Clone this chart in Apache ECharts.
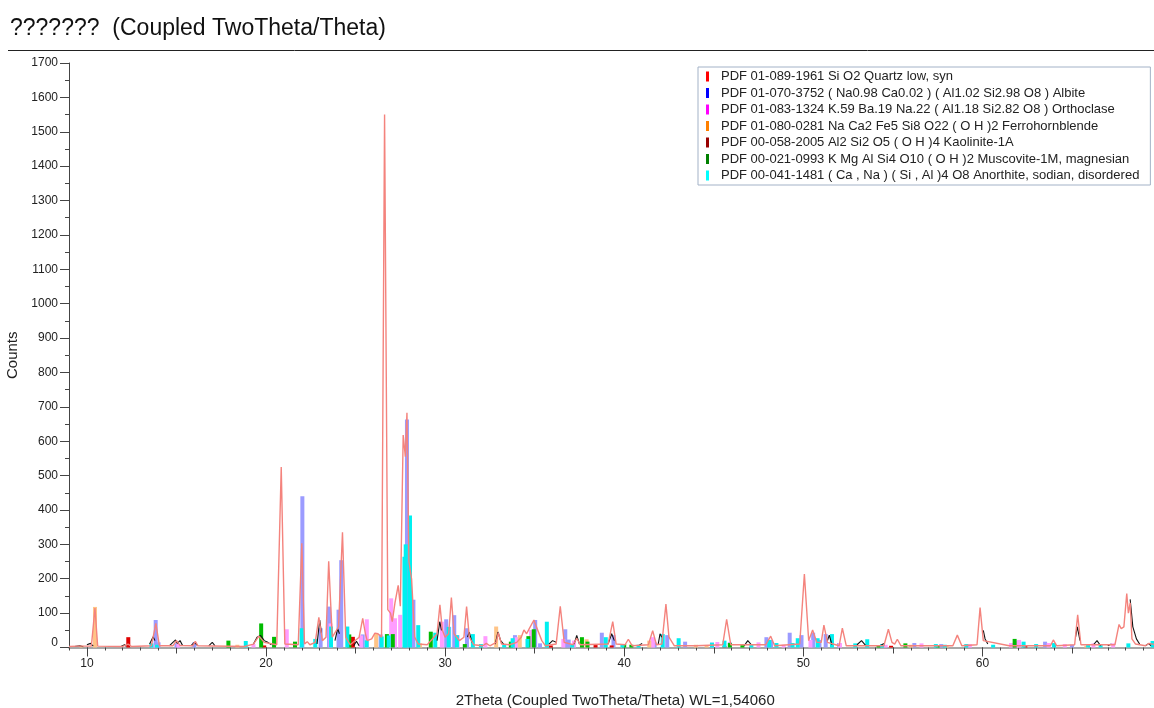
<!DOCTYPE html>
<html>
<head>
<meta charset="utf-8">
<script src="https://cdn.jsdelivr.net/npm/echarts@6/dist/echarts.min.js"></script>
<style>
html,body{margin:0;padding:0;background:#fff;}
#chart{width:1154px;height:708px;}
</style>
</head>
<body>
<div id="chart"></div>
<script>
// ---------- data ----------
const phaseNames = [
  "PDF 01-089-1961 Si O2 Quartz low, syn",
  "PDF 01-070-3752 ( Na0.98 Ca0.02 ) ( Al1.02 Si2.98 O8 ) Albite",
  "PDF 01-083-1324 K.59 Ba.19 Na.22 ( Al1.18 Si2.82 O8 ) Orthoclase",
  "PDF 01-080-0281 Na Ca2 Fe5 Si8 O22 ( O H )2 Ferrohornblende",
  "PDF 00-058-2005 Al2 Si2 O5 ( O H )4 Kaolinite-1A",
  "PDF 00-021-0993 K Mg Al Si4 O10 ( O H )2 Muscovite-1M, magnesian",
  "PDF 00-041-1481 ( Ca , Na ) ( Si , Al )4 O8 Anorthite, sodian, disordered"
];
const legendColors = ["#ff0000","#0000ff","#ff00ff","#ff8000","#990000","#008000","#00ffff"];
const stickColors  = ["#f4837d","#9b9bff","#ff9cff","#ffc487","#e00000","#00bb00","#00f0f0"];

// measured profile (salmon)
const quartzScan = [
  [9.0,3],[9.5,4],[10.25,4],[10.45,115],[10.6,4],
  [12.0,3],[12.3,10],[12.5,3],
  [13.6,5],[13.85,70],[14.05,5],
  [14.8,5],[15.0,20],[15.2,6],
  [15.9,5],[16.05,18],[16.2,5],
  [18.8,3],[19.3,10],[19.6,33],[19.9,15],
  [20.6,8],[20.85,525],[21.05,10],
  [21.8,8],[22.0,303],[22.15,10],[22.3,17],[22.45,8],
  [22.75,15],[22.95,88],[23.15,20],
  [23.35,30],[23.5,251],[23.7,30],
  [24.05,60],[24.27,335],[24.45,30],
  [24.7,8],[25.2,30],[25.4,85],[25.55,40],[25.65,20],
  [25.9,25],[26.08,42],[26.25,40],[26.45,30],
  [26.62,1550],[26.8,110],[26.95,100],[27.05,75],[27.2,130],[27.38,181],[27.5,120],
  [27.66,618],[27.78,555],[27.87,683],[27.98,250],[28.13,199],[28.3,30],[28.5,10],
  [29.0,8],[29.55,40],[29.71,124],[29.85,50],[30.0,30],[30.2,40],[30.35,145],[30.5,40],
  [30.8,20],[31.05,30],[31.2,119],[31.35,30],[31.6,8],
  [32.1,5],[32.3,12],[32.5,5],[32.85,15],[32.97,43],[33.15,10],
  [33.6,8],[34.0,15],[34.25,30],[34.4,51],[34.55,40],[34.7,55],[34.96,80],[35.1,60],[35.2,65],[35.4,20],[35.6,5],
  [36.2,10],[36.43,120],[36.65,15],
  [37.15,8],[37.35,27],[37.55,8],
  [39.1,10],[39.36,75],[39.55,10],
  [40.05,8],[40.23,24],[40.45,5],
  [41.35,8],[41.59,49],[41.8,8],
  [42.1,10],[42.33,126],[42.5,30],[42.6,30],[42.8,5],
  [44.0,5],[45.5,8],[45.72,82],[45.95,8],
  [47.9,8],[48.18,33],[48.4,5],
  [49.8,10],[50.06,214],[50.3,20],[50.52,51],[50.75,15],[51.0,15],[51.15,65],[51.35,15],
  [52.0,5],[52.18,56],[52.4,5],
  [54.5,5],[54.75,53],[54.95,15],[55.1,10],[55.25,24],[55.45,5],
  [58.35,5],[58.6,36],[58.85,5],
  [59.7,8],[59.87,116],[60.05,20],
  [61.5,5],[63.8,5],[63.96,22],[64.15,5],
  [65.15,8],[65.32,95],[65.5,8],
  [67.4,8],[67.63,67],[67.75,55],[67.9,60],[68.06,157],[68.15,100],[68.25,130],[68.35,25],[68.55,10],
  [69.1,5],[69.3,12],[70.0,5]
];

// black scan fragments ('-' breaks the line)
const blackScan = [
  [9.3,3],[9.6,5],[9.8,2],[9.85,'-'],
  [10.0,8],[10.2,12],[10.35,4],[10.4,'-'],
  [11.9,3],[12.1,8],[12.2,3],[12.25,'-'],
  [13.5,10],[13.7,31],[13.8,20],[13.85,'-'],
  [14.6,5],[14.8,15],[14.95,22],[15.05,12],[15.2,20],[15.35,5],[15.4,'-'],
  [15.8,5],[16.0,15],[16.2,5],[16.25,'-'],
  [16.8,5],[17.0,15],[17.15,5],[17.2,'-'],
  [19.3,10],[19.5,30],[19.7,35],[19.9,20],[20.1,15],[20.3,8],[20.35,'-'],
  [22.85,10],[23.0,80],[23.1,40],[23.15,'-'],
  [23.85,20],[24.0,55],[24.1,40],[24.15,'-'],
  [24.9,5],[25.05,18],[25.2,5],[25.25,'-'],
  [29.55,20],[29.7,75],[29.8,50],[29.85,'-'],
  [31.25,30],[31.35,45],[31.5,15],[31.55,'-'],
  [32.8,10],[32.95,45],[33.1,20],[33.3,8],[33.35,'-'],
  [35.8,10],[36.0,20],[36.2,15],[36.25,'-'],
  [37.2,10],[37.35,35],[37.5,10],[37.55,'-'],
  [39.1,10],[39.3,40],[39.45,20],[39.5,'-'],
  [40.8,5],[41.0,12],[41.05,'-'],
  [41.9,10],[42.0,40],[42.1,30],[42.15,'-'],
  [46.7,5],[46.9,20],[47.1,8],[47.15,'-'],
  [51.35,20],[51.45,36],[51.6,8],[51.65,'-'],
  [53.0,8],[53.25,20],[53.5,5],[53.55,'-'],
  [54.3,5],[54.5,12],[54.55,'-'],
  [60.05,50],[60.15,25],[60.3,10],[60.35,'-'],
  [65.2,30],[65.3,60],[65.45,20],[65.5,'-'],
  [66.2,8],[66.4,20],[66.6,5],[66.65,'-'],
  [67.0,5],[67.2,10],[67.25,'-'],
  [68.25,140],[68.3,114],[68.4,60],[68.6,25],[68.8,8],[68.85,'-'],
  [69.1,5],[69.3,12],[69.4,5]
];

const albite = [[13.84,80],[14.0,15],[15.0,12],[16.0,15],[22.03,440],[23.05,56],[23.52,119],[24.05,110],[24.2,254],[25.4,38],[26.4,38],[27.18,76],[27.87,663],[28.23,139],[30.06,82],[30.51,94],[31.22,56],[33.9,36],[35.03,80],[35.3,12],[36.71,53],[36.9,23],[38.75,43],[39.4,36],[41.7,15],[42.4,36],[43.4,17],[44.9,14],[45.9,15],[47.94,30],[48.2,22],[49.24,43],[49.9,36],[50.55,43],[50.9,22],[51.25,39],[52.0,13],[56.2,13],[57.7,10],[63.5,17],[65.0,8]];
const orthoclase = [[13.7,8],[15.1,10],[19.3,10],[21.16,53],[23.6,70],[25.3,35],[25.63,82],[26.99,143],[27.2,85],[27.49,95],[29.82,75],[30.23,60],[30.7,36],[32.25,33],[34.0,30],[34.8,51],[36.6,25],[37.2,20],[41.6,30],[45.2,16],[47.5,15],[48.9,8],[50.4,22],[52.05,13],[54.6,8],[56.6,12],[59.3,10],[61.6,13],[61.9,20],[62.05,22],[63.7,13],[64.6,10],[66.2,12],[67.3,12],[69.75,13]];
const hornblende = [[9.7,5],[10.45,118],[18.4,8],[26.15,41],[28.6,12],[32.85,61],[34.17,36],[37.9,24],[41.4,20],[44.0,8],[44.6,6],[56.0,8],[58.0,5],[65.8,5]];
const kaolinite = [[12.31,30],[19.9,6],[24.85,31],[35.9,6],[38.4,7],[39.3,6],[45.6,4],[54.9,5],[62.4,6]];
const muscovite = [[17.9,20],[19.73,70],[20.45,31],[21.62,17],[24.65,38],[26.75,39],[27.08,39],[29.2,46],[31.1,10],[33.67,17],[34.65,33],[34.95,53],[37.64,30],[37.95,17],[40.0,10],[40.4,8],[45.9,13],[46.6,7],[54.2,7],[55.7,12],[57.5,5],[61.8,25]];
const anorthite = [[13.6,12],[13.9,8],[18.87,19],[21.99,56],[22.75,25],[23.63,61],[24.54,61],[25.62,21],[26.46,32],[26.85,35],[27.73,264],[27.8,300],[28.04,384],[28.5,65],[29.45,43],[30.2,60],[30.66,36],[31.55,39],[32.0,10],[33.3,8],[33.77,27],[34.6,25],[35.68,75],[37.1,10],[38.97,30],[39.9,10],[40.8,8],[42.15,39],[43.04,27],[44.9,14],[45.6,20],[47.1,10],[48.1,22],[48.5,13],[49.4,13],[49.69,27],[50.8,27],[51.6,39],[52.9,12],[53.57,24],[54.4,10],[57.4,10],[57.9,8],[59.1,10],[60.6,8],[62.3,17],[63.0,10],[64.0,13],[65.9,8],[66.6,8],[68.15,12],[69.5,19]];

const xMajorTicks = [10,20,30,40,50,60,70];
const xMidTicks = [15,25,35,45,55,65];
const xMinorTicks = [9,10,11,12,13,14,15,16,17,18,19,20,21,22,23,24,25,26,27,28,29,30,31,32,33,34,35,36,37,38,39,40,41,42,43,44,45,46,47,48,49,50,51,52,53,54,55,56,57,58,59,60,61,62,63,64,65,66,67,68,69,70];

// ---------- chart ----------
const FONT = "'Liberation Sans', Arial, sans-serif";
const chart = echarts.init(document.getElementById('chart'), null, {renderer: 'canvas'});

function stickSeries(name, data, color) {
  return {
    name: name, type: 'bar', xAxisIndex: 0, yAxisIndex: 0,
    data: data, barWidth: 4, barGap: '-100%', z: 2,
    itemStyle: {color: color}, emphasis: {disabled: true}
  };
}

const baseXAxis = {
  type: 'value', gridIndex: 0, min: 9, max: 70, position: 'bottom',
  splitLine: {show: false}
};

const option = {
  animation: false,
  backgroundColor: '#ffffff',
  title: {
    text: '???????  (Coupled TwoTheta/Theta)',
    left: 10, top: 17, padding: 0,
    textStyle: {fontFamily: FONT, fontSize: 23, fontWeight: 'normal', color: '#111'}
  },
  graphic: [{
    type: 'line', shape: {x1: 8, y1: 50.5, x2: 1154, y2: 50.5},
    style: {stroke: '#222', lineWidth: 1}
  }],
  legend: {
    orient: 'vertical', left: 698, top: 67,
    itemWidth: 3, itemHeight: 10, itemGap: 3.5, icon: 'rect',
    backgroundColor: '#ffffff', borderColor: '#a3b2c7', borderWidth: 1,
    padding: [3, 11, 3, 8], selectedMode: false,
    textStyle: {fontFamily: FONT, fontSize: 13, color: '#222', padding: [0, 0, 0, 7]},
    data: phaseNames.map((n, i) => ({name: n, itemStyle: {color: legendColors[i]}}))
  },
  grid: {left: 69, right: -7.5, top: 63, bottom: 60.5, outerBoundsMode: 'none', containLabel: false},
  xAxis: [
    Object.assign({}, baseXAxis, {
      name: '2Theta (Coupled TwoTheta/Theta) WL=1,54060',
      nameLocation: 'middle', nameGap: 46,
      nameTextStyle: {fontFamily: FONT, fontSize: 15, color: '#222'},
      axisLine: {show: true, lineStyle: {color: '#8c8c8c', width: 1.5}},
      axisTick: {show: true, customValues: xMajorTicks, length: 9, lineStyle: {color: '#444'}},
      axisLabel: {customValues: xMajorTicks, margin: 10, fontFamily: FONT, fontSize: 12, color: '#222',
                  showMaxLabel: true, hideOverlap: false, formatter: v => String(v)}
    }),
    Object.assign({}, baseXAxis, {
      axisLine: {show: false},
      axisTick: {show: true, customValues: xMidTicks, length: 6, lineStyle: {color: '#444'}},
      axisLabel: {show: false}
    }),
    Object.assign({}, baseXAxis, {
      axisLine: {show: false},
      axisTick: {show: true, customValues: xMinorTicks, length: 3, lineStyle: {color: '#444'}},
      axisLabel: {show: false}
    })
  ],
  yAxis: {
    type: 'value', min: 0, max: 1700, interval: 100,
    name: 'Counts', nameLocation: 'middle', nameGap: 40,
    nameTextStyle: {fontFamily: FONT, fontSize: 15, color: '#222'},
    axisLine: {show: true, lineStyle: {color: '#444', width: 1}},
    axisTick: {show: true, length: 9, lineStyle: {color: '#444'}},
    minorTick: {show: true, splitNumber: 2, length: 4, lineStyle: {color: '#444'}},
    axisLabel: {
      margin: 11, fontFamily: FONT, fontSize: 12, color: '#222',
      formatter: v => (v === 0 ? '{z|0}' : String(v)),
      rich: {z: {fontFamily: FONT, fontSize: 12, color: '#222', padding: [0, 0, 10, 0]}}
    },
    splitLine: {show: false}
  },
  series: [
    stickSeries(phaseNames[1], albite, stickColors[1]),
    stickSeries(phaseNames[2], orthoclase, stickColors[2]),
    stickSeries(phaseNames[3], hornblende, stickColors[3]),
    stickSeries(phaseNames[4], kaolinite, stickColors[4]),
    stickSeries(phaseNames[5], muscovite, stickColors[5]),
    stickSeries(phaseNames[6], anorthite, stickColors[6]),
    {
      name: 'scan', type: 'line', data: blackScan, z: 3,
      showSymbol: false, connectNulls: false,
      lineStyle: {color: '#111', width: 1.1}, emphasis: {disabled: true}
    },
    {
      name: phaseNames[0], type: 'line', data: quartzScan, z: 4,
      showSymbol: false,
      itemStyle: {color: stickColors[0]},
      lineStyle: {color: stickColors[0], width: 1.4}, emphasis: {disabled: true}
    }
  ]
};
chart.setOption(option);
</script>
</body>
</html>
